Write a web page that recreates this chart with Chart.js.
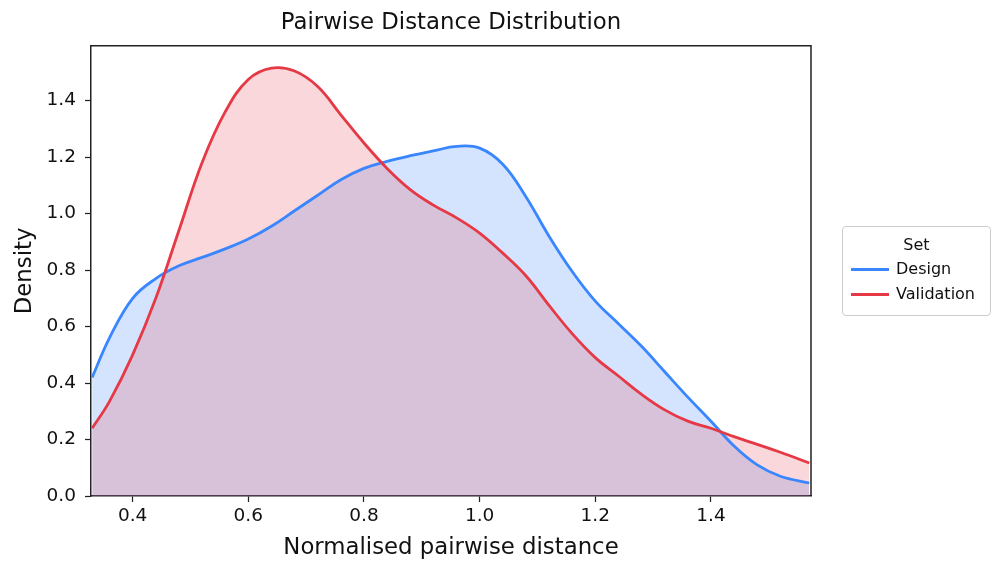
<!DOCTYPE html>
<html>
<head>
<meta charset="utf-8">
<script src="https://cdn.jsdelivr.net/npm/chart.js@4.4.0/dist/chart.umd.min.js"></script>
<style>
  body { margin: 0; background: #fff; }
  #wrap { position: relative; width: 1006px; height: 576px; }
  #leg {
    position: absolute; left: 842px; top: 226px; width: 147px; height: 88px;
    border: 1.5px solid #ccc; border-radius: 4px; background: #fff;
    font-family: "DejaVu Sans", sans-serif; font-size: 16px; color: #111;
  }
  #leg div { position: absolute; line-height: 20px; white-space: nowrap; }
  #leg span { position: absolute; width: 38px; height: 3px; }
</style>
</head>
<body>
<div id="wrap">
  <canvas id="grafico" width="1006" height="576"></canvas>
  <div id="leg">
    <div style="left:0;width:147px;text-align:center;top:8px">Set</div>
    <span style="left:8px;top:41px;background:#3a86ff"></span>
    <div style="left:53px;top:32px">Design</div>
    <span style="left:8px;top:66px;background:#e63946"></span>
    <div style="left:53px;top:57px">Validation</div>
  </div>
</div>
<script>
// distancias (eixo x) e densidades
const distancias = [0.33, 0.36, 0.40, 0.44, 0.48, 0.52, 0.56, 0.60, 0.64, 0.68, 0.72, 0.76, 0.80, 0.84, 0.88, 0.92,
                    0.96, 1.00, 1.04, 1.08, 1.12, 1.16, 1.20, 1.24, 1.28, 1.32, 1.36, 1.40, 1.44, 1.48, 1.52, 1.57];
const densDesign = [0.42, 0.56, 0.70, 0.77, 0.815, 0.845, 0.875, 0.91, 0.955, 1.01, 1.065, 1.12, 1.16, 1.185, 1.205, 1.222,
                    1.238, 1.232, 1.175, 1.06, 0.92, 0.795, 0.69, 0.61, 0.53, 0.44, 0.35, 0.265, 0.177, 0.11, 0.07, 0.046];
const densValidation = [0.24, 0.335, 0.50, 0.70, 0.94, 1.18, 1.36, 1.475, 1.515, 1.505, 1.45, 1.35, 1.25, 1.16, 1.085, 1.03,
                    0.985, 0.931, 0.86, 0.78, 0.675, 0.575, 0.49, 0.425, 0.36, 0.305, 0.265, 0.24, 0.21, 0.183, 0.155, 0.117];
const ticksX = [0.4, 0.6, 0.8, 1.0, 1.2, 1.4];
const ticksY = [0.0, 0.2, 0.4, 0.6, 0.8, 1.0, 1.2, 1.4];

function pontos(ys) {
    return distancias.map((x, i) => ({ x: x, y: ys[i] }));
}

const fonte = "'DejaVu Sans', sans-serif";
const ctx = document.getElementById('grafico').getContext('2d');
new Chart(ctx, {
    type: 'line',
    data: {
        datasets: [{
            label: 'Design',
            data: pontos(densDesign),
            borderColor: '#3a86ff',
            backgroundColor: 'rgba(58, 134, 255, 0.22)',
            borderWidth: 2.8,
            fill: 'origin',
            pointRadius: 0,
            tension: 0.4,
            order: 1
        }, {
            label: 'Validation',
            data: pontos(densValidation),
            borderColor: '#e63946',
            backgroundColor: 'rgba(230, 57, 70, 0.2)',
            borderWidth: 2.8,
            fill: 'origin',
            pointRadius: 0,
            tension: 0.4,
            order: 0
        }]
    },
    options: {
        responsive: false,
        animation: false,
        layout: { padding: { left: 0, right: 195, top: 0, bottom: 0 } },
        plugins: {
            filler: { drawTime: 'beforeDatasetsDraw' },
            legend: { display: false },
            tooltip: { enabled: false },
            title: {
                display: true,
                text: 'Pairwise Distance Distribution',
                color: '#111',
                fullSize: false,
                font: { family: fonte, size: 22.8, weight: 'normal' },
                padding: { top: 9.5, bottom: 9 }
            }
        },
        scales: {
            x: {
                type: 'linear',
                min: 0.328,
                max: 1.573,
                afterBuildTicks: s => { s.ticks = ticksX.map(v => ({ value: v })); },
                afterFit: s => { s.height = 80; },
                ticks: {
                    color: '#111',
                    font: { family: fonte, size: 18.5 },
                    padding: 3,
                    callback: v => v.toFixed(1)
                },
                grid: { drawOnChartArea: false, tickLength: 6, color: '#222', tickWidth: 1.25 },
                border: { color: '#222', width: 1.5 },
                title: {
                    display: true,
                    text: 'Normalised pairwise distance',
                    color: '#111',
                    font: { family: fonte, size: 22.8 },
                    padding: { top: 0, bottom: 14.5 }
                }
            },
            y: {
                min: 0,
                max: 1.594,
                afterBuildTicks: s => { s.ticks = ticksY.map(v => ({ value: v })); },
                afterFit: s => { s.width = 91; },
                ticks: {
                    color: '#111',
                    font: { family: fonte, size: 18.5 },
                    padding: 9,
                    callback: v => v.toFixed(1)
                },
                grid: { drawOnChartArea: false, tickLength: 6, color: '#222', tickWidth: 1.25 },
                border: { color: '#222', width: 1.5 },
                title: {
                    display: true,
                    text: 'Density',
                    color: '#111',
                    font: { family: fonte, size: 22.8 },
                    padding: { top: 11, bottom: 0 }
                }
            }
        }
    },
    plugins: [{
        id: 'moldura',
        afterDraw(chart) {
            const a = chart.chartArea, c = chart.ctx;
            c.save();
            c.strokeStyle = '#222';
            c.lineWidth = 1.5;
            c.beginPath();
            c.moveTo(a.left, a.top); c.lineTo(a.right, a.top); c.lineTo(a.right, a.bottom);
            c.stroke();
            c.restore();
        }
    }]
});
</script>
</body>
</html>
